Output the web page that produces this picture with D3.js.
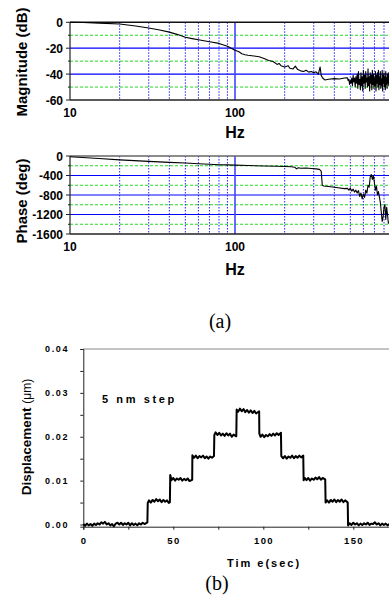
<!DOCTYPE html>
<html>
<head>
<meta charset="utf-8">
<script src="https://cdn.jsdelivr.net/npm/d3@7"></script>
<style>
  body { margin: 0; background: #fff; }
  svg { display: block; }
  .bold { font-family: "Liberation Sans", Arial, sans-serif; font-weight: bold; fill: #000; }
  .serif { font-family: "Liberation Serif", "Times New Roman", serif; fill: #000; }
</style>
</head>
<body>
<svg id="chart" width="389" height="606"></svg>
<script>
// Bode plot: magnitude (Hz, dB)
var magnitude = [
  [10,0],[12,-0.2],[15,-0.6],[20,-1.3],[25,-2.8],[30,-4.4],[35,-6],[40,-7.6],[45,-9.5],
  [50,-11.5],[55,-12.6],[60,-13.5],[70,-15],[80,-16.3],[90,-18.5],[100,-21.5],[105,-22.5],
  [110,-24.3],[115,-25],[120,-25.5],[130,-26],[140,-26.6],[150,-28],[160,-29.5],[170,-30.3],
  [180,-32.5],[185,-31.8],[190,-33.5],[200,-34.5],[210,-33.5],[215,-35.5],[225,-36],[232,-33.8],
  [240,-36.5],[250,-37.5],[260,-38],[270,-37],[280,-38.5],[290,-38],[300,-39],[310,-38.2],
  [320,-40],[328,-34.5],[333,-41],[340,-43],[350,-44.5],[370,-44],[400,-43.5],[430,-43.8],
  [460,-43],[480,-42.8],[485,-45],[490,-44],[495,-48],[500,-45],[505,-47],[510,-43],
  [515,-49],[520,-41],[525,-46],[530,-43],[535,-50],[540,-42],[545,-47],[550,-40],
  [555,-51],[560,-38],[565,-48],[570,-44],[575,-52],[580,-39],[585,-49],[590,-42],
  [595,-53],[600,-37],[605,-47],[610,-41],[615,-51],[620,-38],[625,-46],[630,-43],
  [635,-50],[640,-36],[645,-49],[650,-42],[655,-53],[660,-39],[665,-47],[670,-41],
  [675,-52],[680,-37],[685,-48],[690,-40],[695,-51],[700,-43],[705,-49],[710,-38],
  [715,-53],[720,-41],[725,-47],[730,-39],[735,-50],[740,-37],[745,-52],[750,-42],
  [755,-48],[760,-38],[765,-51],[770,-44],[775,-49],[780,-37],[785,-53],[790,-41],
  [795,-47],[800,-39],[805,-50],[810,-42],[815,-52],[820,-38],[825,-48],[830,-43],
  [835,-51],[840,-40],[845,-47],[850,-39],[855,-49],[860,-42]
];

// Bode plot: phase (Hz, deg)
var phase = [
  [10,-15],[15,-50],[20,-80],[30,-110],[40,-130],[50,-145],[60,-160],[70,-170],[80,-178],
  [90,-183],[100,-188],[120,-195],[150,-205],[180,-210],[200,-215],[220,-222],[230,-230],
  [236,-265],[242,-240],[250,-250],[270,-245],[290,-255],[310,-265],[325,-275],[333,-310],
  [338,-600],[345,-615],[380,-630],[420,-650],[460,-670],[480,-665],[490,-700],[500,-660],
  [510,-720],[520,-680],[530,-740],[540,-700],[550,-760],[560,-710],[570,-830],[580,-760],
  [590,-880],[600,-780],[610,-850],[620,-700],[630,-760],[640,-600],[650,-640],[660,-430],
  [670,-380],[680,-480],[690,-400],[700,-560],[710,-700],[720,-620],[730,-800],[740,-730],
  [750,-840],[760,-950],[770,-1150],[780,-1340],[790,-1250],[800,-1050],[810,-1000],
  [820,-1300],[830,-1050],[840,-1200],[850,-1380],[860,-1350]
];

// step response (sec, um)
var displacement = [
  [0,0.0001],[1,-0.0003],[2,0.0002],[3,-0.0002],[4,0.0001],[5,-0.0003],[6,0.0002],[7,-0.0001],
  [8,0.0003],[9,0],[10,0.0005],[11,0.0002],[12,0.0006],[13,0],[14,0.0003],[15,-0.0002],
  [16,0.0001],[17,-0.0004],[18,0.0002],[19,0.0004],[20,0],[21,0.0004],[22,-0.0001],
  [23,0.0003],[24,0],[25,0.0004],[26,-0.0002],[27,0.0003],[28,-0.0001],[29,0.0002],
  [30,-0.0002],[31,0.0003],[32,0],[33,0.0004],[34,0.0001],[35.6,0.0005],
  [35.8,0.0049],[36.5,0.0055],[37.5,0.005],[38.5,0.0056],[39.5,0.0052],[40.5,0.0058],
  [41.5,0.0053],[42.5,0.0057],[43.5,0.0051],[44.5,0.0056],[45.5,0.0052],[46.5,0.0055],
  [47.5,0.0049],[48.1,0.0051],
  [48.3,0.0113],[49,0.0101],[50,0.0106],[51,0.01],[52,0.0105],[53,0.0102],[54,0.0106],
  [55,0.01],[56,0.0104],[57,0.0101],[58,0.0105],[59,0.0099],[60.5,0.0102],
  [60.6,0.0158],[61.5,0.0152],[62.5,0.0157],[63.5,0.0151],[64.5,0.0156],[65.5,0.0153],
  [66.5,0.0157],[67.5,0.0151],[68.5,0.0155],[69.5,0.015],[70.5,0.0155],[71.5,0.0152],[72.6,0.0156],
  [72.8,0.0204],[73.5,0.021],[74.5,0.0204],[75.5,0.0209],[76.5,0.0203],[77.5,0.0207],
  [78.5,0.0202],[79.5,0.0208],[80.5,0.0203],[81.5,0.0207],[82.5,0.02],[83.5,0.0205],[85,0.0201],
  [85.2,0.0262],[86,0.0257],[87,0.0264],[88,0.0258],[89,0.0263],[90,0.0256],[91,0.0261],
  [92,0.0255],[93,0.026],[94,0.0254],[95,0.0259],[96,0.0253],[97.7,0.0258],
  [97.8,0.0207],[98.5,0.02],[99.5,0.0205],[100.5,0.0199],[101.5,0.0204],[102.5,0.0201],
  [103.5,0.0206],[104.5,0.0202],[105.5,0.0207],[106.5,0.0203],[107.5,0.0208],[108.5,0.0204],[109.8,0.0209],
  [110,0.0156],[111,0.0151],[112,0.0156],[113,0.015],[114,0.0155],[115,0.0152],[116,0.0157],
  [117,0.0151],[118,0.0156],[119,0.0152],[120,0.0157],[121,0.0153],[122.2,0.0157],
  [122.4,0.0101],[123,0.0106],[124,0.0101],[125,0.0106],[126,0.01],[127,0.0105],[128,0.0102],
  [129,0.0107],[130,0.0103],[131,0.0108],[132,0.0102],[133,0.0106],[134.4,0.0103],
  [134.6,0.005],[135.5,0.0055],[136.5,0.005],[137.5,0.0056],[138.5,0.0052],[139.5,0.0057],
  [140.5,0.0051],[141.5,0.0056],[142.5,0.0052],[143.5,0.0057],[144.5,0.0051],[145.5,0.0055],[146.9,0.005],
  [147.1,-0.0002],[148,0.0003],[149,-0.0001],[150,0.0004],[151,0],[152,0.0003],[153,-0.0002],
  [154,0.0002],[155,-0.0001],[156,0.0003],[157,0],[158,0.0004],[159,-0.0001],[160,0.0002],
  [161,0.0001],[162,0.0005],[163,0],[164,0.0003],[165,-0.0002],[166,0.0002],[167,-0.0001],
  [168,0.0002],[169,-0.0002],[170,0.0001]
];

var freqTicks = [10, 100];
var freqGridMinor = [20, 30, 40, 50, 60, 70, 80, 90, 200, 300, 400, 500, 600, 700, 800, 900];
var magTicks = [0, -20, -40, -60];
var magMinor = [-10, -30, -50];
var phaseTicks = [0, -400, -800, -1200, -1600];
var phaseMinor = [-200, -600, -1000, -1400];
var timeTicks = [0, 50, 100, 150];
var dispTicks = [0, 0.01, 0.02, 0.03, 0.04];

var svg = d3.select("#chart");

var x = d3.scaleLog().domain([10, 1000]).range([70, 400]);

function bode(data, yDomain, yRange, major, minor, topColor, yLabel, labelY, tickBase, hzBase) {
  var y = d3.scaleLinear().domain(yDomain).range(yRange);
  var g = svg.append("g");

  // horizontal grid
  g.selectAll(".gmin").data(minor).enter().append("line")
    .attr("x1", 70).attr("x2", 389)
    .attr("y1", function (d) { return y(d); }).attr("y2", function (d) { return y(d); })
    .attr("stroke", "#22dd22").attr("stroke-width", 1).attr("stroke-dasharray", "3,2");
  g.selectAll(".gmaj").data(major.slice(1, -1)).enter().append("line")
    .attr("x1", 70).attr("x2", 389)
    .attr("y1", function (d) { return y(d); }).attr("y2", function (d) { return y(d); })
    .attr("stroke", "#0000ff").attr("stroke-width", 1.2);

  // vertical grid
  g.selectAll(".vmin").data(freqGridMinor).enter().append("line")
    .attr("x1", function (d) { return x(d); }).attr("x2", function (d) { return x(d); })
    .attr("y1", yRange[1]).attr("y2", yRange[0])
    .attr("stroke", "#2222ff").attr("stroke-width", 1).attr("stroke-dasharray", "1.5,1.5");
  g.append("line")
    .attr("x1", x(100)).attr("x2", x(100))
    .attr("y1", yRange[1]).attr("y2", yRange[0])
    .attr("stroke", "#4444ff").attr("stroke-width", 1.6);

  // frame
  g.append("line").attr("x1", 70).attr("x2", 389).attr("y1", yRange[1]).attr("y2", yRange[1])
    .attr("stroke", topColor).attr("stroke-width", 1.5);
  g.append("line").attr("x1", 70).attr("x2", 389).attr("y1", yRange[0]).attr("y2", yRange[0])
    .attr("stroke", "#222").attr("stroke-width", 1.5);
  g.append("line").attr("x1", 70).attr("x2", 70).attr("y1", yRange[1]).attr("y2", yRange[0])
    .attr("stroke", "#222").attr("stroke-width", 1.2);

  // left ticks
  g.selectAll(".tmaj").data(major).enter().append("line")
    .attr("x1", 66).attr("x2", 70)
    .attr("y1", function (d) { return y(d); }).attr("y2", function (d) { return y(d); })
    .attr("stroke", "#222");
  g.selectAll(".tmin").data(minor).enter().append("line")
    .attr("x1", 68).attr("x2", 70)
    .attr("y1", function (d) { return y(d); }).attr("y2", function (d) { return y(d); })
    .attr("stroke", "#222");
  g.selectAll(".ylab").data(major).enter().append("text")
    .attr("class", "bold").attr("font-size", 12)
    .attr("x", 63).attr("y", function (d) { return y(d) + 4.5; })
    .attr("text-anchor", "end")
    .text(function (d) { return d; });

  // bottom ticks
  g.selectAll(".xlab").data(freqTicks).enter().append("text")
    .attr("class", "bold").attr("font-size", 12)
    .attr("x", function (d) { return x(d); }).attr("y", tickBase)
    .attr("text-anchor", "middle")
    .text(function (d) { return d; });

  g.append("text").attr("class", "bold").attr("font-size", 16)
    .attr("x", x(100)).attr("y", hzBase).attr("text-anchor", "middle").text("Hz");

  g.append("text").attr("class", "bold").attr("font-size", 15)
    .attr("transform", "translate(27," + labelY + ") rotate(-90)")
    .attr("text-anchor", "middle").text(yLabel);

  var line = d3.line()
    .x(function (d) { return x(d[0]); })
    .y(function (d) { return y(d[1]); });
  g.append("path").datum(data)
    .attr("d", line)
    .attr("fill", "none").attr("stroke", "#000").attr("stroke-width", 1.1)
    .attr("stroke-linejoin", "round");
}

bode(magnitude, [-60, 0], [100, 22.3], magTicks, magMinor, "#111", "Magnitude (dB)", 62, 117, 138);
bode(phase, [-1600, 0], [234, 156], phaseTicks, phaseMinor, "#666", "Phase (deg)", 201, 251, 275);

svg.append("text").attr("class", "serif").attr("font-size", 20)
  .attr("x", 220).attr("y", 328).attr("text-anchor", "middle").text("(a)");

// bottom chart
var xt = d3.scaleLinear().domain([0, 170]).range([83.3, 389.3]);
var yd = d3.scaleLinear().domain([-0.0005, 0.04]).range([526.7, 349]);
var b = svg.append("g");

b.append("line").attr("x1", 83.3).attr("x2", 389).attr("y1", 349).attr("y2", 349)
  .attr("stroke", "#888").attr("stroke-width", 1);

var xAxis = d3.axisBottom(xt).tickValues(d3.range(0, 171, 25)).tickSize(3).tickFormat("");
b.append("g").attr("transform", "translate(0,526.7)").call(xAxis)
  .call(function (s) { s.selectAll("path,line").attr("stroke", "#222"); });
var yAxis = d3.axisLeft(yd).tickValues(d3.range(0, 0.0401, 0.005)).tickSize(3).tickFormat("");
b.append("g").attr("transform", "translate(83.3,0)").call(yAxis)
  .call(function (s) { s.selectAll("path,line").attr("stroke", "#222"); });

b.selectAll(".dl").data(dispTicks).enter().append("text")
  .attr("class", "bold").attr("font-size", 9).attr("letter-spacing", 1.6)
  .attr("x", 69).attr("y", function (d) { return yd(d) + 3.3; })
  .attr("text-anchor", "end")
  .text(function (d) { return d3.format(".2f")(d); });
b.selectAll(".tl").data(timeTicks).enter().append("text")
  .attr("class", "bold").attr("font-size", 9.5).attr("letter-spacing", 1.4)
  .attr("x", function (d) { return xt(d) + 0.7; }).attr("y", 543.5)
  .attr("text-anchor", "middle")
  .text(function (d) { return d; });

b.append("text").attr("class", "bold").attr("font-size", 11).attr("letter-spacing", 2)
  .attr("x", 264).attr("y", 567).attr("text-anchor", "middle").text("Tim e(sec)");

var dl = b.append("text").attr("class", "bold").attr("font-size", 13.5)
  .attr("transform", "translate(31,437) rotate(-90)").attr("text-anchor", "middle");
dl.append("tspan").text("Displacement ");
dl.append("tspan").attr("font-weight", "normal").attr("font-size", 12).text("(\u03bcm)");

b.append("text").attr("class", "bold").attr("font-size", 11).attr("letter-spacing", 2.6)
  .attr("x", 102).attr("y", 403).text("5 nm step");

b.append("path").datum(displacement)
  .attr("d", d3.line()
    .x(function (d) { return xt(d[0]); })
    .y(function (d) { return yd(d[1]); }))
  .attr("fill", "none").attr("stroke", "#000").attr("stroke-width", 2)
  .attr("stroke-linejoin", "round");

svg.append("text").attr("class", "serif").attr("font-size", 20)
  .attr("x", 217).attr("y", 590).attr("text-anchor", "middle").text("(b)");
</script>
</body>
</html>
